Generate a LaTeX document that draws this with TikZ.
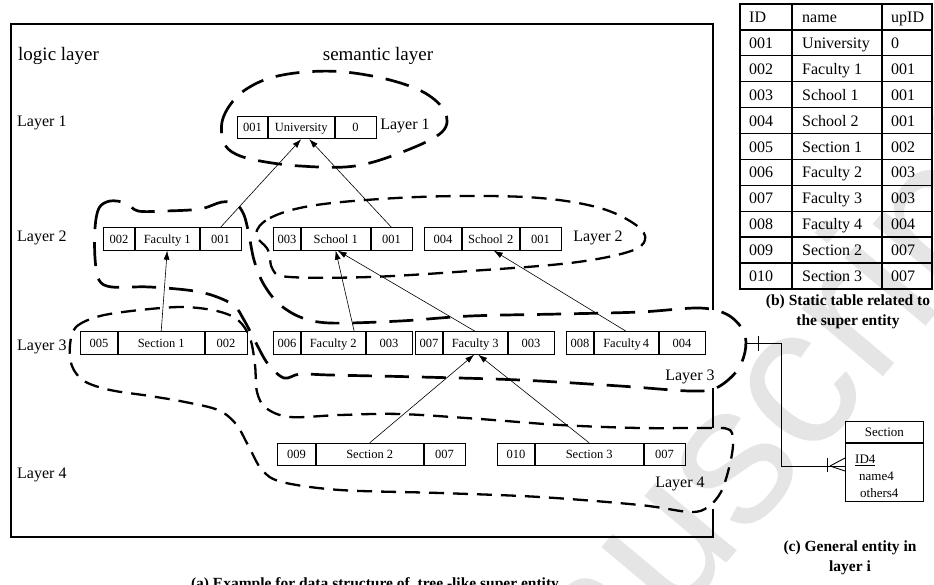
\documentclass[tikz,border=0pt]{standalone}
\usepackage{fontspec}
\setmainfont{Liberation Serif}
\newfontfamily\wmfont{Liberation Sans}
\usetikzlibrary{arrows.meta}

% one record of the tree: three cells side by side
% #1 name, #2 x of left edge, #3 y of centre, #4-#6 cell widths, #7-#9 texts
\newcommand{\record}[9]{%
  \node[cell, minimum width=#4pt] (#1-a) at (#2,#3) {#7};
  \node[cell, minimum width=#5pt] (#1-b) at (#1-a.east) {#8};
  \node[cell, minimum width=#6pt] (#1-c) at (#1-b.east) {#9};
}

\begin{document}
\begin{tikzpicture}[x=1pt,y=-1pt,
  cell/.style={draw, line width=0.8pt, minimum height=22.5pt, inner sep=0pt,
    text height=8.6pt, text depth=0pt, anchor=west, font=\fontsize{12.5}{14}\selectfont},
  conn/.style={-{Latex[length=9pt,width=6pt]}, line width=0.6pt},
  longdash/.style={line width=2.7pt, dash pattern=on 24pt off 13pt},
  shortdash/.style={line width=2.3pt, dash pattern=on 15pt off 9pt},
  lbl/.style={inner sep=0pt, text height=11pt, text depth=0pt, font=\fontsize{16}{18}\selectfont},
  head/.style={inner sep=0pt, text height=13pt, text depth=0pt, font=\fontsize{19}{21}\selectfont},
  tcell/.style={inner sep=0pt, anchor=west, text height=11pt, text depth=0pt,
    font=\fontsize{16}{18}\selectfont},
  capt/.style={inner sep=0pt, align=center, font=\bfseries\fontsize{15.5}{20}\selectfont},
  ent/.style={inner sep=0pt, text height=9pt, text depth=0pt, font=\fontsize{13}{15}\selectfont},
  erline/.style={line width=0.9pt}]

\useasboundingbox (0,0) rectangle (934,584);

% background watermark
\begin{scope}
  \clip (0,0) rectangle (934,584);
  \node[rotate=50, anchor=base west, inner sep=0pt, text=black!10,
    font=\wmfont\fontsize{200}{200}\selectfont] (wm) at (424,924) {Manuscript};
\end{scope}

% frame of the super entity (right edge broken by the groups)
\draw[line width=1.2pt] (713,310) -- (713,24) -- (11,24) -- (11,537) -- (713,537) -- (713,509);
\draw[line width=1.2pt] (713,388) -- (713,428);

% headings and layer labels
\node[head, anchor=west] (logic) at (18,54) {logic layer};
\node[head] (semantic) at (378,54) {semantic layer};
\node[lbl, anchor=west] (l1) at (17,121) {Layer 1};
\node[lbl, anchor=west] (l2) at (17,236) {Layer 2};
\node[lbl, anchor=west] (l3) at (17,345) {Layer 3};
\node[lbl, anchor=west] (l4) at (17,473) {Layer 4};
\node[lbl] (g1) at (405,124) {Layer 1};
\node[lbl] (g2) at (598,236) {Layer 2};
\node[lbl] (g3) at (690,375) {Layer 3};
\node[lbl] (g4) at (680,482) {Layer 4};

% groups of the semantic layer
\draw[longdash] plot[smooth cycle, tension=0.6] coordinates {
  (223,140) (222,122) (230,105) (245,90) (270,78) (305,72) (345,72) (390,80)
  (425,93) (445,112) (442,132) (405,151) (355,166) (300,166) (255,160) (232,152)};
\draw[shortdash] plot[smooth cycle, tension=0.6] coordinates {
  (256,234) (270,218) (310,206) (380,199) (460,196) (540,198) (600,208) (636,225)
  (645,240) (628,252) (570,263) (470,271) (370,277) (290,277) (273,270) (268,250)};
\draw[longdash] plot[smooth cycle, tension=0.55] coordinates {
  (95,228) (99,208) (110,201) (126,203) (138,211) (165,211) (200,209) (222,202)
  (236,204) (244,215) (249,235) (254,260) (263,283) (278,303) (300,317) (330,323)
  (400,321) (470,316) (560,314) (640,312) (700,308) (728,315) (744,332) (745,352)
  (736,372) (716,388) (690,391) (620,386) (520,380) (420,377) (330,375) (300,374)
  (284,378) (268,364) (256,343) (244,320) (232,304) (200,292) (150,287) (112,287)
  (99,280) (95,258)};
\draw[shortdash] plot[smooth cycle, tension=0.55] coordinates {
  (70,345) (76,327) (100,316) (140,310) (183,307) (217,311) (238,320) (250,338)
  (255,365) (257,392) (266,408) (290,417) (340,415) (400,414) (480,419) (560,425)
  (640,428) (712,428) (730,430) (733,445) (729,468) (721,492) (708,507) (690,512)
  (640,505) (540,497) (440,493) (340,490) (282,482) (262,470) (249,447) (236,424)
  (218,410) (185,402) (150,396) (110,390) (84,381) (72,366)};

% records
\record{uni}{237}{127.5}{30}{66}{41}{001}{University}{0}
\record{fac1}{103}{239}{31}{64}{41}{002}{Faculty 1}{001}
\record{sch1}{273}{239}{27}{69}{41}{003}{School 1}{001}
\record{sch2}{424}{239}{37}{57}{41}{004}{School\,\,2}{001}
\record{sec1}{80}{343}{37}{86}{42}{005}{Section 1}{002}
\record{fac2}{273}{343}{27}{64}{46}{006}{Faculty 2}{003}
\record{fac3}{415}{343}{27}{64}{46}{007}{Faculty 3}{003}
\record{fac4}{566}{343}{27}{64}{46}{008}{Faculty\,4}{004}
\record{sec2}{277}{454.5}{38}{107}{41}{009}{Section 2}{007}
\record{sec3}{497}{454.5}{37}{108}{41}{010}{Section 3}{007}

% parent links
\draw[conn] (fac1-c.north) -- (uni-b.south);
\draw[conn] (sch1-c.north) -- ([xshift=8pt]uni-b.south);
\draw[conn] (sec1-b.north) -- (fac1-b.south);
\draw[conn] ([xshift=21pt]fac2-b.north) -- (sch1-b.south);
\draw[conn] (fac3-b.north) -- ([xshift=2pt]sch1-b.south);
\draw[conn] (fac4-b.north) -- ([xshift=3pt]sch2-b.south);
\draw[conn] (sec2-b.north) -- ([xshift=-1pt]fac3-b.south);
\draw[conn] (sec3-b.north) -- ([xshift=3pt]fac3-b.south);

% static table
\draw[line width=1.4pt] (740,4) rectangle (932,289);
\foreach \i in {1,...,10} \draw[line width=1.3pt] (740,{4+25.9*\i}) -- (932,{4+25.9*\i});
\draw[line width=1.3pt] (792,4) -- (792,289);
\draw[line width=1.3pt] (882,4) -- (882,289);
\foreach \a/\b/\c [count=\i from 0] in {ID/name/upID, 001/University/0,
    002/Faculty 1/001, 003/School 1/001, 004/School 2/001, 005/Section 1/002,
    006/Faculty 2/003, 007/Faculty 3/003, 008/Faculty 4/004, 009/Section 2/007,
    010/Section 3/007} {
  \node[tcell] (t\i-1) at (749,{17+25.9*\i}) {\a};
  \node[tcell] (t\i-2) at (802,{17+25.9*\i}) {\b};
  \node[tcell] (t\i-3) at (891,{17+25.9*\i}) {\c};
}

% general entity
\node[draw, line width=0.9pt, anchor=north west, minimum width=78pt, minimum height=21pt,
  inner sep=0pt, text height=9pt, text depth=0pt,
  font=\fontsize{13}{15}\selectfont] (enthead) at (845,421) {Section};
\node[draw, line width=0.9pt, anchor=north west, minimum width=78pt, minimum height=58pt,
  inner sep=0pt] (entbody) at (enthead.south west) {};
\node[ent, anchor=west] (entid) at (855,459) {\underline{ID4}};
\node[ent, anchor=west] (entname) at (859,476) {name4};
\node[ent, anchor=west] (entother) at (860,493) {others4};

% one-to-many link from the group to the entity
\coordinate (facR) at (746,343);
\coordinate (entIn) at (845,466);
\draw[erline] (facR) -- ++(35,0) |- (entIn);
\draw[erline] ([xshift=12pt,yshift=7pt]facR) -- ([xshift=12pt,yshift=-8pt]facR);
\draw[erline] ([xshift=-15pt]entIn) -- ([yshift=8pt]entIn);
\draw[erline] ([xshift=-15pt]entIn) -- ([yshift=-5pt]entIn);
\draw[erline] ([xshift=-18pt,yshift=8pt]entIn) -- ([xshift=-18pt,yshift=-6pt]entIn);

% captions
\node[capt] (capb) at (848,312) {(b) Static table related to\\the super entity};
\node[capt] (capc) at (850,558) {(c) General entity in\\layer i};
\node[capt, anchor=base] (capa) at (375,588) {(a) Example for data structure of\ \ tree -like super entity};

\end{tikzpicture}
\end{document}
